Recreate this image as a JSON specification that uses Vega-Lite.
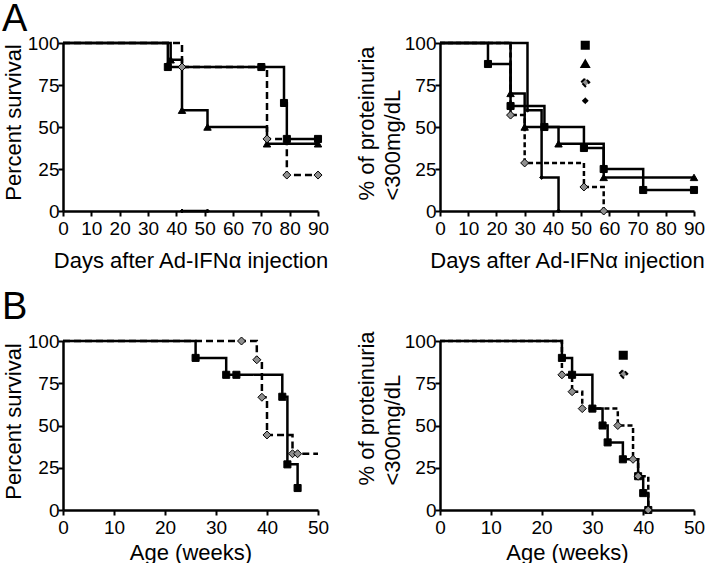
{
  "$schema": "https://vega.github.io/schema/vega-lite/v6.json",
  "padding": {"left": 2, "top": 0, "right": 0, "bottom": 0},
  "datasets": {
    "AL": [
      {"group": "Late BHV1gG-Ig", "t": 0, "v": 100, "kind": "start"},
      {"group": "Late BHV1gG-Ig", "t": 37, "v": 85.7, "kind": "event"},
      {"group": "Late BHV1gG-Ig", "t": 70, "v": 85.7, "kind": "censor"},
      {"group": "Late BHV1gG-Ig", "t": 78, "v": 64.3, "kind": "event"},
      {"group": "Late BHV1gG-Ig", "t": 79, "v": 42.9, "kind": "event"},
      {"group": "Late BHV1gG-Ig", "t": 90, "v": 42.9, "kind": "censor"},
      {"group": "Early BHV1gG-Ig", "t": 0, "v": 100, "kind": "start"},
      {"group": "Early BHV1gG-Ig", "t": 38, "v": 90, "kind": "event"},
      {"group": "Early BHV1gG-Ig", "t": 42, "v": 60, "kind": "event"},
      {"group": "Early BHV1gG-Ig", "t": 51, "v": 50, "kind": "event"},
      {"group": "Early BHV1gG-Ig", "t": 72, "v": 40, "kind": "event"},
      {"group": "Early BHV1gG-Ig", "t": 90, "v": 40, "kind": "censor"},
      {"group": "Untreated", "t": 0, "v": 100, "kind": "start"},
      {"group": "Untreated", "t": 42, "v": 85.7, "kind": "event"},
      {"group": "Untreated", "t": 72, "v": 42.9, "kind": "event"},
      {"group": "Untreated", "t": 79, "v": 21.4, "kind": "event"},
      {"group": "Untreated", "t": 90, "v": 21.4, "kind": "censor"},
      {"group": "IgG Control", "t": 42, "v": 0, "kind": "event"},
      {"group": "IgG Control", "t": 51, "v": 0, "kind": "censor"}
    ],
    "AR": [
      {"group": "Late BHV1gG-Ig", "t": 0, "v": 100, "kind": "start"},
      {"group": "Late BHV1gG-Ig", "t": 17, "v": 87.5, "kind": "event"},
      {"group": "Late BHV1gG-Ig", "t": 25, "v": 62.5, "kind": "event"},
      {"group": "Late BHV1gG-Ig", "t": 37, "v": 50, "kind": "event"},
      {"group": "Late BHV1gG-Ig", "t": 51, "v": 37.5, "kind": "event"},
      {"group": "Late BHV1gG-Ig", "t": 58, "v": 25, "kind": "event"},
      {"group": "Late BHV1gG-Ig", "t": 72, "v": 12.5, "kind": "event"},
      {"group": "Late BHV1gG-Ig", "t": 90, "v": 12.5, "kind": "censor"},
      {"group": "Early BHV1gG-Ig", "t": 0, "v": 100, "kind": "start"},
      {"group": "Early BHV1gG-Ig", "t": 25, "v": 70, "kind": "event"},
      {"group": "Early BHV1gG-Ig", "t": 30, "v": 50, "kind": "event"},
      {"group": "Early BHV1gG-Ig", "t": 42, "v": 40, "kind": "event"},
      {"group": "Early BHV1gG-Ig", "t": 58, "v": 20, "kind": "event"},
      {"group": "Early BHV1gG-Ig", "t": 90, "v": 20, "kind": "censor"},
      {"group": "Untreated", "t": 0, "v": 100, "kind": "start"},
      {"group": "Untreated", "t": 25, "v": 57.1, "kind": "event"},
      {"group": "Untreated", "t": 30, "v": 28.6, "kind": "event"},
      {"group": "Untreated", "t": 51, "v": 14.3, "kind": "event"},
      {"group": "Untreated", "t": 58, "v": 0, "kind": "event"},
      {"group": "IgG Control", "t": 0, "v": 100, "kind": "start"},
      {"group": "IgG Control", "t": 31, "v": 60, "kind": "event"},
      {"group": "IgG Control", "t": 36, "v": 20, "kind": "event"},
      {"group": "IgG Control", "t": 42, "v": 0, "kind": "event"}
    ],
    "BL": [
      {"group": "BHV1gG-Ig", "t": 0, "v": 100, "kind": "start"},
      {"group": "BHV1gG-Ig", "t": 26, "v": 90, "kind": "event"},
      {"group": "BHV1gG-Ig", "t": 32, "v": 80, "kind": "event"},
      {"group": "BHV1gG-Ig", "t": 34, "v": 80, "kind": "censor"},
      {"group": "BHV1gG-Ig", "t": 43, "v": 67, "kind": "event"},
      {"group": "BHV1gG-Ig", "t": 44, "v": 27, "kind": "event"},
      {"group": "BHV1gG-Ig", "t": 46, "v": 13, "kind": "event"},
      {"group": "Untreated", "t": 0, "v": 100, "kind": "start"},
      {"group": "Untreated", "t": 35, "v": 100, "kind": "censor"},
      {"group": "Untreated", "t": 38, "v": 88.9, "kind": "event"},
      {"group": "Untreated", "t": 39, "v": 66.7, "kind": "event"},
      {"group": "Untreated", "t": 40, "v": 44.4, "kind": "event"},
      {"group": "Untreated", "t": 45, "v": 33.3, "kind": "event"},
      {"group": "Untreated", "t": 46, "v": 33.3, "kind": "censor"},
      {"group": "Untreated", "t": 50, "v": 33.3, "kind": "end"}
    ],
    "BR": [
      {"group": "BHV1gG-Ig", "t": 0, "v": 100, "kind": "start"},
      {"group": "BHV1gG-Ig", "t": 24, "v": 90, "kind": "event"},
      {"group": "BHV1gG-Ig", "t": 26, "v": 80, "kind": "event"},
      {"group": "BHV1gG-Ig", "t": 30, "v": 60, "kind": "event"},
      {"group": "BHV1gG-Ig", "t": 32, "v": 50, "kind": "event"},
      {"group": "BHV1gG-Ig", "t": 33, "v": 40, "kind": "event"},
      {"group": "BHV1gG-Ig", "t": 36, "v": 30, "kind": "event"},
      {"group": "BHV1gG-Ig", "t": 39, "v": 20, "kind": "event"},
      {"group": "BHV1gG-Ig", "t": 40, "v": 10, "kind": "event"},
      {"group": "BHV1gG-Ig", "t": 41, "v": 0, "kind": "event"},
      {"group": "Untreated", "t": 0, "v": 100, "kind": "start"},
      {"group": "Untreated", "t": 24, "v": 80, "kind": "event"},
      {"group": "Untreated", "t": 26, "v": 70, "kind": "event"},
      {"group": "Untreated", "t": 28, "v": 60, "kind": "event"},
      {"group": "Untreated", "t": 35, "v": 50, "kind": "event"},
      {"group": "Untreated", "t": 38, "v": 30, "kind": "event"},
      {"group": "Untreated", "t": 39, "v": 20, "kind": "event"},
      {"group": "Untreated", "t": 41, "v": 0, "kind": "event"}
    ]
  },
  "columns": 2,
  "bounds": "flush",
  "spacing": {"row": 130, "column": 122},
  "concat": [
    {
      "width": 255, "height": 168,
      "data": {"name": "AL"},
      "title": {"text": "A", "anchor": "start", "frame": "group", "dx": -61, "fontSize": 38, "font": "Liberation Sans", "fontWeight": "normal", "color": "black", "baseline": "alphabetic", "offset": -34.5},
      "encoding": {
        "x": {"field": "t", "type": "quantitative", "scale": {"domain": [0, 90], "nice": false, "zero": false},
              "axis": {"values": [0, 10, 20, 30, 40, 50, 60, 70, 80, 90], "title": "Days after Ad-IFNα injection", "labelPadding": 3, "titlePadding": 12}},
        "y": {"field": "v", "type": "quantitative", "scale": {"domain": [0, 100], "nice": false},
              "axis": {"values": [0, 25, 50, 75, 100], "title": "Percent survival", "titleY": 79}}
      },
      "layer": [
        {"mark": {"type": "line", "interpolate": "step-after", "strokeWidth": 2.5, "color": "black"},
         "encoding": {"detail": {"field": "group"},
                      "strokeDash": {"field": "group", "scale": {"domain": ["Late BHV1gG-Ig", "Early BHV1gG-Ig", "Untreated", "IgG Control"], "range": [[1, 0], [1, 0], [7, 4], [1, 0]]}, "legend": null}}},
        {"transform": [{"filter": "datum.kind === 'event' || datum.kind === 'censor'"}],
         "mark": {"type": "point", "filled": true, "stroke": "black", "strokeWidth": 1, "opacity": 1},
         "encoding": {
           "shape": {"field": "group", "scale": {"domain": ["Late BHV1gG-Ig", "Early BHV1gG-Ig", "Untreated", "IgG Control"], "range": ["square", "triangle-up", "diamond", "diamond"]}, "legend": null},
           "fill": {"field": "group", "scale": {"domain": ["Late BHV1gG-Ig", "Early BHV1gG-Ig", "Untreated", "IgG Control"], "range": ["black", "black", "#8f8f8f", "black"]}, "legend": null},
           "size": {"field": "group", "type": "nominal", "scale": {"type": "ordinal", "domain": ["Late BHV1gG-Ig", "Early BHV1gG-Ig", "Untreated", "IgG Control"], "range": [50, 55, 64, 16]}, "legend": null}
         }}
      ]
    },
    {
      "width": 254, "height": 168,
      "data": {"name": "AR"},
      "encoding": {
        "x": {"field": "t", "type": "quantitative", "scale": {"domain": [0, 90], "nice": false, "zero": false},
              "axis": {"values": [0, 10, 20, 30, 40, 50, 60, 70, 80, 90], "title": "Days after Ad-IFNα injection", "labelPadding": 3, "titlePadding": 12}},
        "y": {"field": "v", "type": "quantitative", "scale": {"domain": [0, 100], "nice": false},
              "axis": {"values": [0, 25, 50, 75, 100], "title": ["% of proteinuria", "<300mg/dL"], "titleLineHeight": 26, "titleAlign": "left", "titleY": 157, "titlePadding": 0}}
      },
      "layer": [
        {"mark": {"type": "line", "interpolate": "step-after", "strokeWidth": 2.5, "color": "black"},
         "encoding": {"detail": {"field": "group"},
                      "strokeDash": {"field": "group", "type": "nominal", "scale": {"domain": ["Late BHV1gG-Ig", "Early BHV1gG-Ig", "Untreated", "IgG Control"], "range": [[1, 0], [1, 0], [5, 3], [1, 0]]},
                        "legend": {"orient": "none", "legendX": 137, "legendY": -6, "title": null, "labelFont": "Liberation Sans", "labelFontSize": 16.5, "labelColor": "black", "symbolSize": 196, "labelOffset": 8, "rowPadding": 1.5, "padding": 0, "symbolStrokeWidth": 2, "symbolStrokeColor": "black"}}}},
        {"transform": [{"filter": "datum.kind === 'event' || datum.kind === 'censor'"}],
         "mark": {"type": "point", "filled": true, "stroke": "black", "strokeWidth": 1, "opacity": 1},
         "encoding": {
           "shape": {"field": "group", "type": "nominal", "scale": {"domain": ["Late BHV1gG-Ig", "Early BHV1gG-Ig", "Untreated", "IgG Control"], "range": ["square", "triangle-up", "diamond", "diamond"]},
             "legend": {"orient": "none", "legendX": 137, "legendY": -6, "title": null, "labelFont": "Liberation Sans", "labelFontSize": 16.5, "labelOpacity": 0, "symbolSize": 196, "labelOffset": 8, "rowPadding": 1.5, "padding": 0}},
           "fill": {"field": "group", "type": "nominal", "scale": {"domain": ["Late BHV1gG-Ig", "Early BHV1gG-Ig", "Untreated", "IgG Control"], "range": ["black", "black", "#8f8f8f", "black"]},
             "legend": {"orient": "none", "legendX": 137, "legendY": -6, "title": null, "labelFont": "Liberation Sans", "labelFontSize": 16.5, "labelOpacity": 0, "symbolSize": 196, "labelOffset": 8, "rowPadding": 1.5, "padding": 0}},
           "size": {"field": "group", "type": "nominal", "scale": {"type": "ordinal", "domain": ["Late BHV1gG-Ig", "Early BHV1gG-Ig", "Untreated", "IgG Control"], "range": [50, 55, 64, 16]},
             "legend": {"orient": "none", "legendX": 137, "legendY": -6, "title": null, "labelFont": "Liberation Sans", "labelFontSize": 16.5, "labelOpacity": 0, "symbolSize": 196, "labelOffset": 8, "rowPadding": 1.5, "padding": 0}}
         }}
      ]
    },
    {
      "width": 255, "height": 169,
      "data": {"name": "BL"},
      "title": {"text": "B", "anchor": "start", "frame": "group", "dx": -61, "fontSize": 38, "font": "Liberation Sans", "fontWeight": "normal", "color": "black", "baseline": "alphabetic", "offset": -24.5},
      "encoding": {
        "x": {"field": "t", "type": "quantitative", "scale": {"domain": [0, 50], "nice": false, "zero": false},
              "axis": {"values": [0, 10, 20, 30, 40, 50], "title": "Age (weeks)", "labelPadding": 3, "titlePadding": 5}},
        "y": {"field": "v", "type": "quantitative", "scale": {"domain": [0, 100], "nice": false},
              "axis": {"values": [0, 25, 50, 75, 100], "title": "Percent survival", "titleY": 80}}
      },
      "layer": [
        {"mark": {"type": "line", "interpolate": "step-after", "strokeWidth": 2.5, "color": "black"},
         "encoding": {"detail": {"field": "group"},
                      "strokeDash": {"field": "group", "scale": {"domain": ["BHV1gG-Ig", "Untreated"], "range": [[1, 0], [7, 4]]}, "legend": null}}},
        {"transform": [{"filter": "datum.kind === 'event' || datum.kind === 'censor'"}],
         "mark": {"type": "point", "filled": true, "stroke": "black", "strokeWidth": 1, "opacity": 1},
         "encoding": {
           "shape": {"field": "group", "scale": {"domain": ["BHV1gG-Ig", "Untreated"], "range": ["square", "diamond"]}, "legend": null},
           "fill": {"field": "group", "scale": {"domain": ["BHV1gG-Ig", "Untreated"], "range": ["black", "#8f8f8f"]}, "legend": null},
           "size": {"field": "group", "type": "nominal", "scale": {"type": "ordinal", "domain": ["BHV1gG-Ig", "Untreated"], "range": [50, 64]}, "legend": null}
         }}
      ]
    },
    {
      "width": 254, "height": 169,
      "data": {"name": "BR"},
      "encoding": {
        "x": {"field": "t", "type": "quantitative", "scale": {"domain": [0, 50], "nice": false, "zero": false},
              "axis": {"values": [0, 10, 20, 30, 40, 50], "title": "Age (weeks)", "labelPadding": 3, "titlePadding": 5}},
        "y": {"field": "v", "type": "quantitative", "scale": {"domain": [0, 100], "nice": false},
              "axis": {"values": [0, 25, 50, 75, 100], "title": ["% of proteinuria", "<300mg/dL"], "titleLineHeight": 26, "titleAlign": "left", "titleY": 144, "titlePadding": 0}}
      },
      "layer": [
        {"mark": {"type": "line", "interpolate": "step-after", "strokeWidth": 2.5, "color": "black"},
         "encoding": {"detail": {"field": "group"},
                      "strokeDash": {"field": "group", "type": "nominal", "scale": {"domain": ["BHV1gG-Ig", "Untreated"], "range": [[1, 0], [5, 3]]},
                        "legend": {"orient": "none", "legendX": 175, "legendY": 6, "title": null, "labelFont": "Liberation Sans", "labelFontSize": 16.5, "labelColor": "black", "symbolSize": 196, "labelOffset": 8, "rowPadding": 1.5, "padding": 0, "symbolStrokeWidth": 2, "symbolStrokeColor": "black"}}}},
        {"transform": [{"filter": "datum.kind === 'event' || datum.kind === 'censor'"}],
         "mark": {"type": "point", "filled": true, "stroke": "black", "strokeWidth": 1, "opacity": 1},
         "encoding": {
           "shape": {"field": "group", "type": "nominal", "scale": {"domain": ["BHV1gG-Ig", "Untreated"], "range": ["square", "diamond"]},
             "legend": {"orient": "none", "legendX": 175, "legendY": 6, "title": null, "labelFont": "Liberation Sans", "labelFontSize": 16.5, "labelOpacity": 0, "symbolSize": 196, "labelOffset": 8, "rowPadding": 1.5, "padding": 0}},
           "fill": {"field": "group", "type": "nominal", "scale": {"domain": ["BHV1gG-Ig", "Untreated"], "range": ["black", "#8f8f8f"]},
             "legend": {"orient": "none", "legendX": 175, "legendY": 6, "title": null, "labelFont": "Liberation Sans", "labelFontSize": 16.5, "labelOpacity": 0, "symbolSize": 196, "labelOffset": 8, "rowPadding": 1.5, "padding": 0}},
           "size": {"field": "group", "type": "nominal", "scale": {"type": "ordinal", "domain": ["BHV1gG-Ig", "Untreated"], "range": [50, 64]},
             "legend": {"orient": "none", "legendX": 175, "legendY": 6, "title": null, "labelFont": "Liberation Sans", "labelFontSize": 16.5, "labelOpacity": 0, "symbolSize": 196, "labelOffset": 8, "rowPadding": 1.5, "padding": 0}}
         }}
      ]
    }
  ],
  "resolve": {"scale": {"x": "independent", "y": "independent", "shape": "independent", "fill": "independent", "size": "independent", "strokeDash": "independent"}, "legend": {"strokeDash": "independent", "shape": "independent", "fill": "independent", "size": "independent"}},
  "config": {
    "view": {"stroke": null},
    "font": "Liberation Sans",
    "axis": {"grid": false, "domainColor": "black", "domainWidth": 2.5, "tickColor": "black", "tickWidth": 2, "tickSize": 5,
             "labelFont": "Liberation Sans", "labelFontSize": 19, "labelColor": "black", "labelFlush": false, "labelOverlap": false,
             "titleFont": "Liberation Sans", "titleFontSize": 22, "titleFontWeight": "normal", "titleColor": "black"},
    "axisY": {"labelPadding": -1, "titlePadding": 2}
  }
}
